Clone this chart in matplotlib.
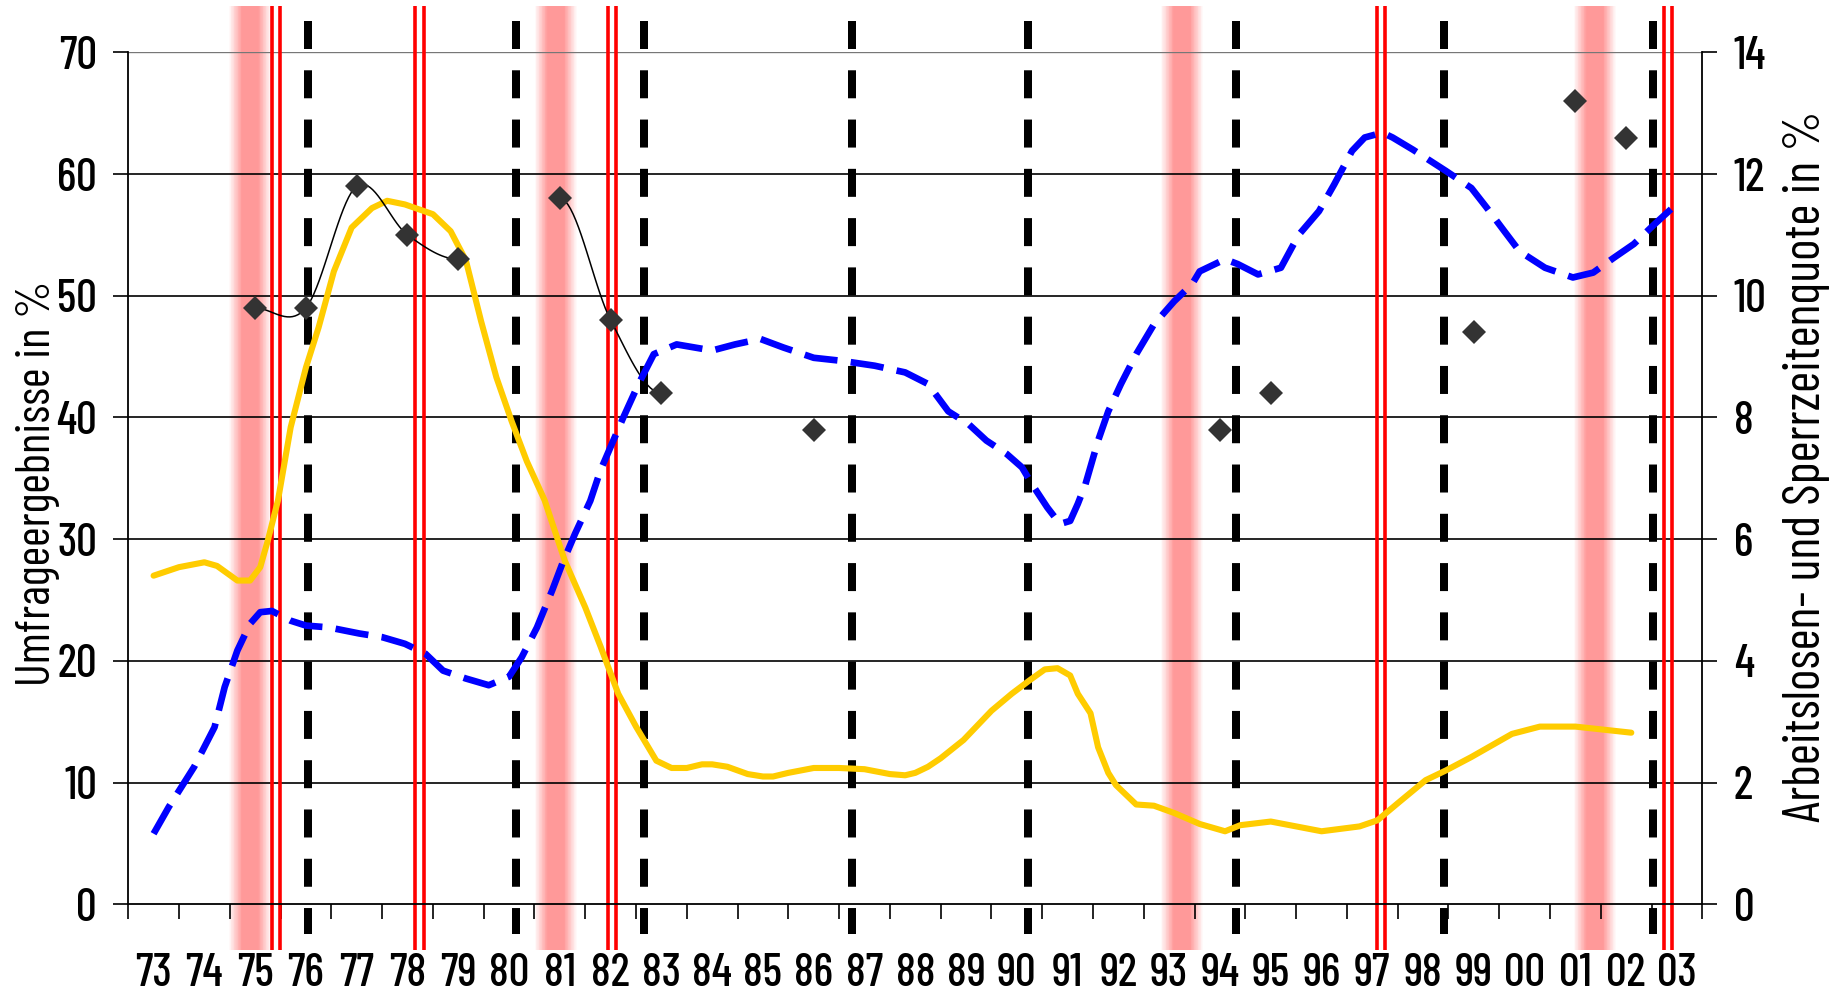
import numpy as np
import matplotlib
matplotlib.use("Agg")
import matplotlib.pyplot as plt
from matplotlib import font_manager
from matplotlib.transforms import blended_transform_factory

# pick a condensed font that is installed
names = {f.name for f in font_manager.fontManager.ttflist}
fam = [n for n in ['Barlow Condensed', 'Archivo Narrow', 'Asap Condensed'] if n in names][:1] or ['DejaVu Sans']
plt.rcParams['font.family'] = fam + ['DejaVu Sans']

# ---- data (years as fractional calendar years) ----
year_labels = ['73', '74', '75', '76', '77', '78', '79', '80', '81', '82', '83', '84', '85', '86', '87',
               '88', '89', '90', '91', '92', '93', '94', '95', '96', '97', '98', '99', '00', '01', '02', '03']

# survey results (left axis, %)
survey_years = [1975, 1976, 1977, 1978, 1979, 1981, 1982, 1983, 1986, 1994, 1995, 1999, 2001, 2002]
survey_values = [49, 49, 59, 55, 53, 58, 48, 42, 39, 39, 42, 47, 66, 63]
connected_runs = [(1975, 1979), (1981, 1983)]

# yellow series (left axis scale)
yellow_years = [1973.0, 1973.5, 1974.0, 1974.25, 1974.65, 1974.9, 1975.1, 1975.25, 1975.45, 1975.7,
                1976.0, 1976.25, 1976.55, 1976.9, 1977.3, 1977.6, 1977.95, 1978.5, 1978.85, 1979.15,
                1979.45, 1979.75, 1980.05, 1980.35, 1980.7, 1981.1, 1981.5, 1981.8, 1982.15, 1982.5,
                1982.9, 1983.2, 1983.5, 1983.8, 1984.0, 1984.3, 1984.7, 1985.0, 1985.2, 1985.5,
                1986.0, 1986.5, 1987.0, 1987.5, 1987.8, 1988.0, 1988.25, 1988.5, 1988.95, 1989.5,
                1989.9, 1990.25, 1990.55, 1990.8, 1991.05, 1991.2, 1991.45, 1991.6, 1991.8, 1991.95,
                1992.35, 1992.7, 1993.1, 1993.6, 1994.1, 1994.4, 1995.0, 1996.0, 1996.75, 1997.1,
                1997.5, 1998.05, 1998.45, 1998.95, 1999.75, 2000.3, 2001.0, 2002.1]
yellow_values = [27.0, 27.7, 28.1, 27.8, 26.6, 26.6, 27.7, 29.9, 33.2, 39.2,
                 44.1, 47.4, 52.0, 55.6, 57.2, 57.8, 57.5, 56.7, 55.3, 52.9,
                 47.9, 43.3, 39.7, 36.4, 33.2, 28.2, 24.4, 21.2, 17.3, 14.6,
                 11.8, 11.2, 11.2, 11.5, 11.5, 11.3, 10.7, 10.5, 10.5, 10.8,
                 11.2, 11.2, 11.1, 10.7, 10.6, 10.8, 11.3, 12.0, 13.5, 15.9,
                 17.3, 18.4, 19.3, 19.4, 18.8, 17.3, 15.7, 12.9, 10.8, 9.8,
                 8.2, 8.1, 7.5, 6.6, 6.0, 6.5, 6.8, 6.0, 6.4, 6.9,
                 8.3, 10.2, 11.0, 12.1, 14.0, 14.6, 14.6, 14.1]

# blue dashed series (right axis, %)
blue_years = [1973.0, 1973.3, 1973.8, 1974.2, 1974.4, 1974.65, 1974.9, 1975.1, 1975.33, 1975.7,
              1976.0, 1976.45, 1977.05, 1977.5, 1977.95, 1978.35, 1978.7, 1979.15, 1979.6, 1980.0,
              1980.25, 1980.55, 1980.85, 1981.05, 1981.3, 1981.6, 1981.8, 1982.25, 1982.55, 1982.85,
              1983.3, 1984.0, 1984.45, 1984.95, 1985.4, 1986.0, 1986.55, 1987.2, 1987.8, 1988.25,
              1988.65, 1989.05, 1989.4, 1989.8, 1990.1, 1990.3, 1990.6, 1990.85, 1991.05, 1991.2,
              1991.35, 1991.6, 1991.8, 1992.05, 1992.35, 1992.7, 1993.1, 1993.45, 1993.6, 1994.1,
              1994.35, 1994.75, 1995.2, 1995.55, 1995.95, 1996.25, 1996.6, 1996.85, 1997.2, 1997.4,
              1997.8, 1998.45, 1998.95, 1999.25, 1999.6, 1999.9, 2000.4, 2000.95, 2001.35, 2001.75,
              2002.15, 2002.55, 2003.05]
blue_values = [1.16, 1.6, 2.26, 2.91, 3.57, 4.17, 4.61, 4.8, 4.82, 4.66,
               4.58, 4.55, 4.45, 4.39, 4.28, 4.12, 3.84, 3.71, 3.6, 3.74,
               4.06, 4.55, 5.16, 5.6, 6.09, 6.63, 7.13, 8.0, 8.55, 9.04,
               9.2, 9.1, 9.2, 9.29, 9.15, 8.98, 8.93, 8.85, 8.74, 8.55,
               8.1, 7.89, 7.62, 7.4, 7.18, 6.9, 6.52, 6.25, 6.3, 6.58,
               6.9, 7.62, 8.1, 8.55, 9.04, 9.53, 9.91, 10.19, 10.4, 10.6,
               10.52, 10.35, 10.46, 11.0, 11.39, 11.83, 12.38, 12.6, 12.68, 12.6,
               12.4, 12.05, 11.77, 11.45, 11.06, 10.73, 10.46, 10.3, 10.38, 10.62,
               10.85, 11.17, 11.55]

# event markers
recession_bands = [1974.9, 1980.92, 1993.25, 2001.38]
red_double_lines = [1975.41, 1978.24, 1982.03, 1997.17, 2002.82]
black_dashed_lines = [1976.04, 1980.14, 1982.66, 1986.76, 1990.22, 1994.32, 1998.42, 2002.52]

left_ticks = [0, 10, 20, 30, 40, 50, 60, 70]
right_ticks = [0, 2, 4, 6, 8, 10, 12, 14]

BASE = 1973


def xpos(years):
    return np.asarray(years, dtype=float) - BASE


def smooth(x, y, n=20):
    # Catmull-Rom style smoothing, like a spreadsheet "smoothed line"
    x = np.asarray(x, float)
    y = np.asarray(y, float)
    m = np.zeros_like(y)
    for i in range(1, len(y) - 1):
        m[i] = (y[i + 1] - y[i - 1]) / (x[i + 1] - x[i - 1])
    xs, ys = [], []
    for i in range(len(x) - 1):
        h = x[i + 1] - x[i]
        t = np.linspace(0, 1, n)
        h00 = 2 * t**3 - 3 * t**2 + 1
        h10 = t**3 - 2 * t**2 + t
        h01 = -2 * t**3 + 3 * t**2
        h11 = t**3 - t**2
        xs.extend(x[i] + t * h)
        ys.extend(h00 * y[i] + h10 * h * m[i] + h01 * y[i + 1] + h11 * h * m[i + 1])
    return np.array(xs), np.array(ys)


fig = plt.figure(figsize=(18.43, 9.94), dpi=100)
ax = fig.add_axes([0.06956, 0.09024, 0.85415, 0.85714])
ax2 = ax.twinx()

ax.set_xlim(-0.5, 30.5)
ax.set_ylim(0, 70)
ax2.set_ylim(0, 14)

trans = blended_transform_factory(ax.transData, ax.transAxes)

# pink recession bands with soft edges
pink = np.array([1.0, 0.6, 0.6])
white = np.array([1.0, 1.0, 1.0])
for c in recession_bands:
    offs = np.linspace(-0.42, 0.42, 57)
    step = offs[1] - offs[0]
    for o in offs:
        a = np.clip((0.42 - abs(o)) / 0.26, 0, 1)
        col = white + (pink - white) * a
        ax.axvspan(xpos(c) + o - step / 2, xpos(c) + o + step / 2, ymin=-0.0536, ymax=1.0543,
                   facecolor=col, lw=0, antialiased=False, clip_on=False, zorder=0.5)

# horizontal grid
for v in left_ticks[1:]:
    ax.axhline(v, color='#777777' if v == 70 else 'black', lw=1.7 if v == 70 else 1.2, zorder=1)

# red double lines
for c in red_double_lines:
    for d in (-0.083, 0.083):
        ax.plot([xpos(c) + d] * 2, [1.0543, -0.0536], transform=trans, color='#FF0000',
                lw=2.6, clip_on=False, zorder=2, solid_capstyle='butt')

# black dashed lines
for c in black_dashed_lines:
    ax.plot([xpos(c)] * 2, [1.0371, -0.0349], transform=trans, color='black',
            lw=5.76, dashes=(3.5, 2.66), clip_on=False, zorder=2)

# yellow line
ax.plot(xpos(yellow_years), yellow_values, color='#FFCC00', lw=4.4, zorder=3,
        solid_joinstyle='round', solid_capstyle='round')

# survey: thin smoothed connectors and diamonds
sy = np.array(survey_years)
sv = np.array(survey_values)
for a, b in connected_runs:
    sel = (sy >= a) & (sy <= b)
    xs, ys = smooth(xpos(sy[sel]), sv[sel])
    ax.plot(xs, ys, color='black', lw=1.1, zorder=4)
ax.plot(xpos(sy), sv, linestyle='none', marker='D', ms=12.5, mew=0, color='#333333', zorder=5)

# blue dashed line on right axis
ax2.plot(xpos(blue_years), blue_values, color='#0000FF', lw=4.8, dashes=(5, 2), zorder=3)

# spines
for s in ['top', 'right']:
    ax.spines[s].set_visible(False)
for s in ['top', 'left', 'bottom']:
    ax2.spines[s].set_visible(False)
for s in [ax.spines['left'], ax.spines['bottom'], ax2.spines['right']]:
    s.set_linewidth(1.3)

# x ticks: marks on category boundaries, labels in the middle
ax.set_xticks(np.arange(-0.5, 31, 1))
ax.set_xticklabels([])
ax.set_xticks(np.arange(0, 31), minor=True)
ax.set_xticklabels(year_labels, minor=True, fontweight='medium')
ax.tick_params(axis='x', which='major', direction='out', length=10.8, width=1.2)
ax.tick_params(axis='x', which='minor', length=0, pad=35, labelsize=33)

ax.set_yticks(left_ticks)
ax.set_yticklabels([str(v) for v in left_ticks], fontweight='medium')
ax.tick_params(axis='y', direction='out', length=10.5, width=1.2, pad=12, labelsize=33)
ax2.set_yticks(right_ticks)
ax2.set_yticklabels([str(v) for v in right_ticks], fontweight='medium')
ax2.tick_params(axis='y', direction='out', length=10.5, width=1.2, pad=12, labelsize=33)

fig.text(0.0206, 0.514, 'Umfrageergebnisse in %', rotation=90, ha='center', va='center', fontsize=34.5)
fig.text(0.980, 0.531, 'Arbeitslosen- und Sperrzeitenquote in %', rotation=90,
         ha='center', va='center', fontsize=37)

fig.savefig('out.png', dpi=100, facecolor='white')
